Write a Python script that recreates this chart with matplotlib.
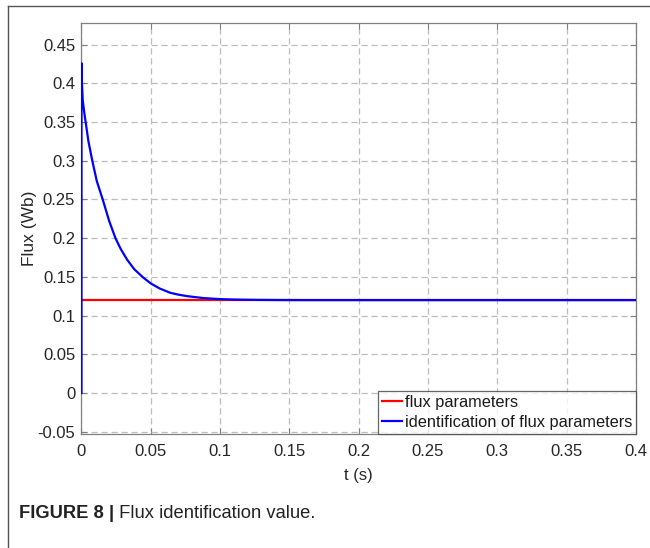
import matplotlib
matplotlib.use("Agg")
import matplotlib.pyplot as plt
from matplotlib.lines import Line2D

plt.rcParams['font.family'] = ['Liberation Sans', 'DejaVu Sans']

# Data
t_ident = [0.0, 0.0, 0.0003, 0.0009, 0.002, 0.003, 0.005, 0.0078, 0.011, 0.0153,
           0.02, 0.0245, 0.0283, 0.033, 0.038, 0.0446, 0.05, 0.0564, 0.0639, 0.07,
           0.0759, 0.0879, 0.1, 0.11, 0.125, 0.14, 0.16, 0.2, 0.4]
flux_ident = [0.0, 0.426, 0.40, 0.378, 0.362, 0.35, 0.325, 0.30, 0.274, 0.25,
              0.222, 0.20, 0.186, 0.172, 0.16, 0.149, 0.1415, 0.135, 0.1295, 0.127,
              0.1252, 0.1226, 0.1213, 0.1207, 0.1203, 0.1201, 0.12, 0.12, 0.12]
t_param = [0.0, 0.4]
flux_param = [0.12, 0.12]

xticks = [0, 0.05, 0.1, 0.15, 0.2, 0.25, 0.3, 0.35, 0.4]
xticklabels = ['0', '0.05', '0.1', '0.15', '0.2', '0.25', '0.3', '0.35', '0.4']
yticks = [-0.05, 0, 0.05, 0.1, 0.15, 0.2, 0.25, 0.3, 0.35, 0.4, 0.45]
yticklabels = ['-0.05', '0', '0.05', '0.1', '0.15', '0.2', '0.25', '0.3', '0.35', '0.4', '0.45']

label_param = 'flux parameters'
label_ident = 'identification of flux parameters'
xlabel = 't (s)'
ylabel = 'Flux (Wb)'
caption_bold = 'FIGURE 8 |'
caption_rest = ' Flux identification value.'

W, H = 650, 548
fig = plt.figure(figsize=(W / 100, H / 100), dpi=100)
fig.patch.set_facecolor('white')

# frame lines of the page
fig.add_artist(Line2D([8 / W, 1.0], [1 - 6 / H, 1 - 6 / H], color='#555555', lw=1.0))
fig.add_artist(Line2D([8 / W, 8 / W], [0.0, 1 - 6 / H], color='#555555', lw=1.0))

ax = fig.add_axes([81.5 / W, 1 - 434 / H, (636 - 81.5) / W, (434 - 23) / H])

ax.plot(t_param, flux_param, color=(1, 0, 0), lw=1.6, label=label_param, zorder=3)
ax.plot(t_ident, flux_ident, color=(0, 0, 1), lw=1.6, label=label_ident, zorder=4,
        solid_joinstyle='round')

ax.set_xlim(0, 0.4)
ax.set_ylim(-0.053, 0.478)
ax.set_xticks(xticks)
ax.set_xticklabels(xticklabels)
ax.set_yticks(yticks)
ax.set_yticklabels(yticklabels)

tick_color = '#262626'
ax.tick_params(direction='in', length=4, width=0.8, colors='#808080',
               labelcolor=tick_color, labelsize=12, top=True, right=True)
ax.tick_params(axis='y', pad=4.5)
ax.tick_params(axis='x', pad=7.5)
for s in ax.spines.values():
    s.set_color('#808080')
    s.set_linewidth(0.9)

ax.grid(True, color='#bdbdbd', linestyle=(0, (5, 3)), linewidth=0.9)
ax.set_axisbelow(True)

ax.set_xlabel(xlabel, fontsize=12, color=tick_color, labelpad=6)
ax.set_ylabel(ylabel, fontsize=12.5, color=tick_color, labelpad=0)

leg = ax.legend(loc='lower right', fontsize=11.8, frameon=True, fancybox=False,
                borderaxespad=0.0, handlelength=1.2, handletextpad=0.15,
                borderpad=0.25, labelspacing=0.3)
leg.get_frame().set_edgecolor('#404040')
leg.get_frame().set_linewidth(0.9)
for txt in leg.get_texts():
    txt.set_color('#1a1a1a')

t1 = fig.text(19 / W, 1 - 513 / H, caption_bold, fontsize=13.2, fontweight='bold',
              color='#222222', va='center', ha='left')
ax.annotate(caption_rest, xy=(1, 0.5), xycoords=t1, va='center', ha='left',
            fontsize=13.2, color='#222222', annotation_clip=False)

fig.savefig('out.png', dpi=100, facecolor='white')
